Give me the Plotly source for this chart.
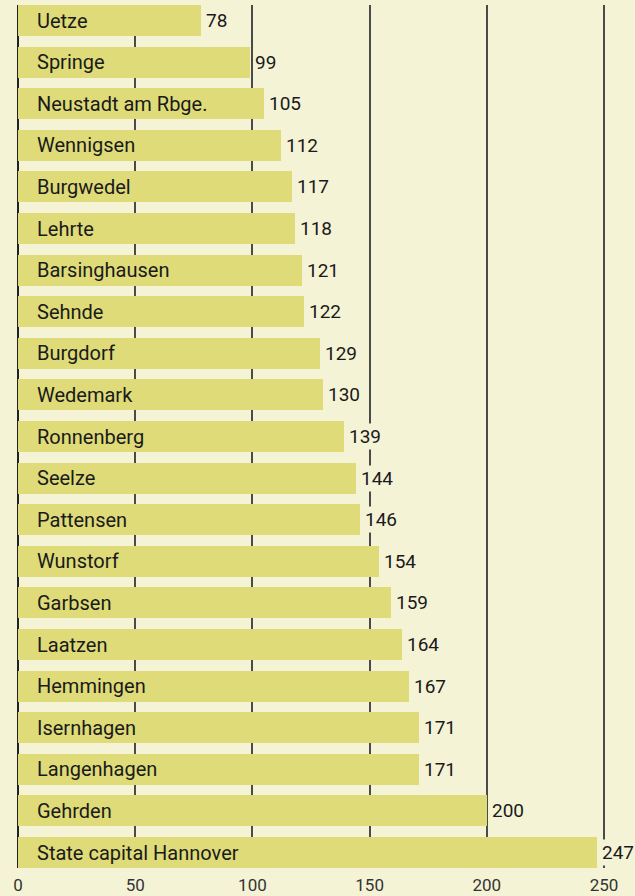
import plotly.graph_objects as go

categories = ["Uetze", "Springe", "Neustadt am Rbge.", "Wennigsen", "Burgwedel", "Lehrte",
              "Barsinghausen", "Sehnde", "Burgdorf", "Wedemark", "Ronnenberg", "Seelze",
              "Pattensen", "Wunstorf", "Garbsen", "Laatzen", "Hemmingen", "Isernhagen",
              "Langenhagen", "Gehrden", "State capital Hannover"]
values = [78, 99, 105, 112, 117, 118, 121, 122, 129, 130, 139, 144, 146, 154, 159, 164,
          167, 171, 171, 200, 247]
tick_vals = [0, 50, 100, 150, 200, 250]

BG = "#f5f3d6"
BAR = "#dedb78"
FONT = "Roboto"
BW = 0.745

fig = go.Figure(go.Bar(
    x=values, y=list(range(len(categories))), orientation="h",
    marker=dict(color=BAR, line=dict(width=0)), width=BW, hoverinfo="skip"))

ann = []
for i, (c, v) in enumerate(zip(categories, values)):
    ann.append(dict(x=0, y=i, text=c, showarrow=False, xanchor="left", xshift=17,
                    font=dict(family=FONT, size=20, color="#1a1a1a")))
    ann.append(dict(x=v, y=i, text=str(v), showarrow=False, xanchor="left", xshift=3,
                    bgcolor=BG, borderpad=1,
                    font=dict(family=FONT, size=19, color="#1a1a1a")))

n = len(categories)
fig.update_layout(
    width=635, height=896, margin=dict(l=18, r=0, t=5, b=28),
    paper_bgcolor=BG, plot_bgcolor=BG, showlegend=False, annotations=ann,
    xaxis=dict(range=[0, 263.2], tickvals=tick_vals, showgrid=True, gridcolor="#4a4a4a",
               gridwidth=1.5, zeroline=True, zerolinecolor="#222", zerolinewidth=1.5,
               showline=False, ticks="", ticklabelstandoff=5,
               tickfont=dict(family=FONT, size=17, color="#333"),
               fixedrange=True, automargin=False),
    yaxis=dict(range=[n - 1 + BW / 2, -BW / 2], showticklabels=False, showgrid=False,
               zeroline=False, showline=False, fixedrange=True),
    bargap=0,
)
fig.write_html("out.html", config={"displayModeBar": False},
               post_script="document.body.style.margin='0';document.body.style.background='" + BG + "';")
